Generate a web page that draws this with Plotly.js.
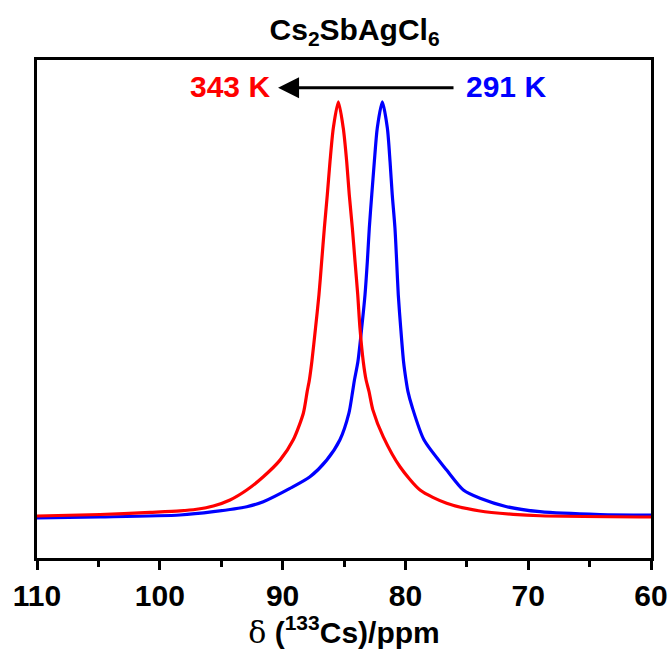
<!DOCTYPE html>
<html>
<head>
<meta charset="utf-8">
<script src="https://cdn.plot.ly/plotly-3.0.1.min.js"></script>
<style>html,body{margin:0;padding:0;background:#fff;}#chart{width:669px;height:650px;}</style>
</head>
<body>
<div id="chart"></div>
<script>
// 343 K spectrum (red)
const ppm343 = [110, 104.87, 100.8, 98.36, 97.0, 95.64, 94.28, 92.92, 91.57, 90.21, 89.13, 88.31, 88.0, 87.82, 87.62, 87.32, 87.04, 86.82, 86.6, 86.36, 86.14, 85.87, 85.46, 85.06, 84.78, 84.57, 84.32, 84.1, 83.88, 83.7, 83.43, 83.2, 82.96, 82.65, 81.8, 80.44, 78.81, 76.64, 73.92, 71.21, 69.04, 60];
const int343 = [0.0024, 0.006, 0.011, 0.0145, 0.0186, 0.0265, 0.041, 0.065, 0.097, 0.137, 0.186, 0.25, 0.302, 0.33, 0.374, 0.455, 0.535, 0.615, 0.696, 0.776, 0.856, 0.937, 1.0, 0.937, 0.856, 0.776, 0.696, 0.615, 0.535, 0.455, 0.374, 0.33, 0.302, 0.258, 0.193, 0.121, 0.065, 0.033, 0.0145, 0.0065, 0.003, 0.0];
// 291 K spectrum (blue)
const ppm291 = [110, 104.87, 98.36, 95.64, 92.92, 91.57, 89.4, 87.77, 86.41, 85.33, 84.6, 84.3, 84.15, 83.87, 83.56, 83.29, 83.1, 82.94, 82.74, 82.53, 82.29, 81.88, 81.47, 81.25, 81.07, 80.85, 80.71, 80.58, 80.38, 80.15, 79.95, 79.79, 79.46, 78.49, 76.64, 75.28, 73.92, 71.75, 69.04, 64.15, 60];
const int291 = [-0.0024, 0.0, 0.0048, 0.0128, 0.0248, 0.0369, 0.069, 0.097, 0.137, 0.186, 0.25, 0.302, 0.33, 0.374, 0.455, 0.535, 0.615, 0.696, 0.776, 0.856, 0.937, 1.0, 0.937, 0.856, 0.776, 0.696, 0.615, 0.535, 0.455, 0.374, 0.33, 0.302, 0.266, 0.186, 0.113, 0.065, 0.045, 0.0248, 0.0128, 0.006, 0.0048];
const xTicks = [110, 100, 90, 80, 70, 60];
const labelLow = '343 K';
const labelHigh = '291 K';

const F = 'Arial, "Liberation Sans", sans-serif';

const traces = [
  {x: ppm291, y: int291, mode: 'lines', line: {color: '#0000ff', width: 3.2, shape: 'spline', smoothing: 0.7}, hoverinfo: 'skip'},
  {x: ppm343, y: int343, mode: 'lines', line: {color: '#ff0000', width: 3.2, shape: 'spline', smoothing: 0.7}, hoverinfo: 'skip'}
];

const layout = {
  width: 669, height: 650,
  margin: {l: 37, r: 18, t: 60, b: 92},
  showlegend: false,
  paper_bgcolor: '#fff', plot_bgcolor: '#fff',
  title: {
    text: 'Cs<sub>2</sub>SbAgCl<sub>6</sub>',
    font: {family: F, size: 30, color: '#000', weight: 'bold'},
    x: 0.53, xanchor: 'center', y: 0.955, yanchor: 'middle', yref: 'container'
  },
  xaxis: {
    range: [110, 60], autorange: false,
    tickvals: xTicks, ticktext: xTicks.map(String),
    ticks: 'outside', ticklen: 9, tickwidth: 3, tickcolor: '#000',
    minor: {dtick: 5, ticks: 'outside', ticklen: 6, tickwidth: 3, tickcolor: '#000', showgrid: false},
    showline: true, linewidth: 3, linecolor: '#000', mirror: true,
    showgrid: false, zeroline: false,
    tickfont: {family: F, size: 30, color: '#000', weight: 'bold'},
    title: {
      text: '<span style="font-family:\'DejaVu Serif\',serif;font-weight:normal">δ</span> (<sup>133</sup>Cs)/ppm',
      font: {family: F, size: 30, color: '#000', weight: 'bold'},
      standoff: 6
    }
  },
  yaxis: {
    range: [-0.0988, 1.101], autorange: false,
    showticklabels: false, ticks: '',
    showline: true, linewidth: 3, linecolor: '#000', mirror: true,
    showgrid: false, zeroline: false
  },
  annotations: [
    {x: 94.28, y: 1.036, xref: 'x', yref: 'y', text: labelLow, showarrow: false,
     font: {family: F, size: 30, color: '#ff0000', weight: 'bold'}, xanchor: 'center', yanchor: 'middle'},
    {x: 71.77, y: 1.036, xref: 'x', yref: 'y', text: labelHigh, showarrow: false,
     font: {family: F, size: 30, color: '#0000ff', weight: 'bold'}, xanchor: 'center', yanchor: 'middle'},
    {x: 90.37, y: 1.034, xref: 'x', yref: 'y', ax: 75.96, ay: 1.034, axref: 'x', ayref: 'y',
     text: '', showarrow: true, arrowhead: 2, arrowsize: 1.4, arrowwidth: 3, arrowcolor: '#000'}
  ]
};

Plotly.newPlot('chart', traces, layout, {staticPlot: true, displayModeBar: false});
</script>
</body>
</html>
